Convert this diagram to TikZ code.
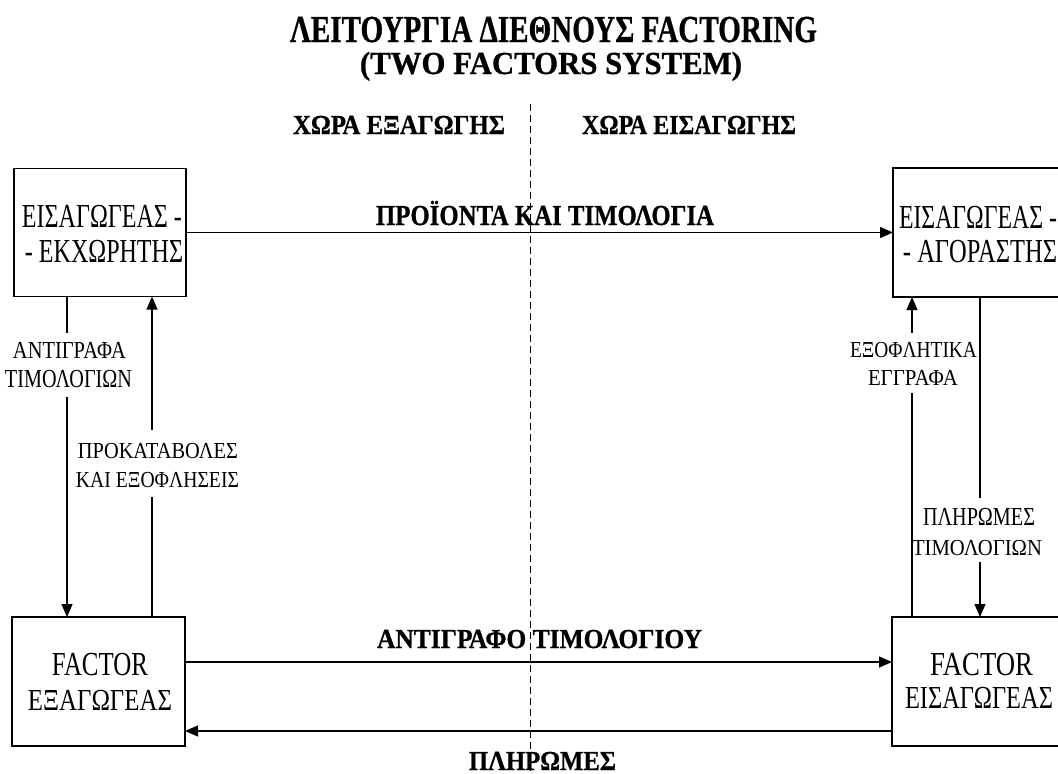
\documentclass[tikz,border=0pt]{standalone}
\usepackage{fontspec}
\setmainfont{Liberation Serif}
\newfontfamily\hvy[UprightFont={* Bold},FakeBold=0.8]{Liberation Serif}
\usepackage{graphicx}
\usetikzlibrary{arrows.meta}
\newcommand{\fitt}[3]{\resizebox{#1pt}{#2pt}{\raisebox{0pt}[\fontcharht\font`\A][0pt]{#3}}}
\begin{document}
\begin{tikzpicture}[x=1pt,y=-1pt,
  ln/.style={line width=1.2pt},
  arr/.style={ln,-{Triangle[length=13pt,width=11pt]}},
  box/.style={draw,line width=1.5pt,inner sep=0pt,outer sep=0pt},
  txt/.style={inner sep=0pt,anchor=base},
  lbl/.style={inner xsep=0pt,anchor=base},
  sep/.style={line width=1pt,dash pattern=on 7pt off 4pt}]
\useasboundingbox[fill=white] (0,0) rectangle (1058,774);

% title
\node[txt,font=\hvy] (t1) at (553.5,42) {\fitt{527}{25}{ΛΕΙΤΟΥΡΓΙΑ ΔΙΕΘΝΟΥΣ FACTORING}};
\node[txt,font=\hvy] (t2) at (551,74) {\fitt{382}{21}{(TWO FACTORS SYSTEM)}};

% countries
\node[txt,font=\hvy] (cex) at (399,134) {\fitt{212}{18}{ΧΩΡΑ ΕΞΑΓΩΓΗΣ}};
\node[txt,font=\hvy] (cim) at (689,134) {\fitt{214}{18}{ΧΩΡΑ ΕΙΣΑΓΩΓΗΣ}};

% separator
\coordinate (dtop) at (530.5,104);
\coordinate (dbot) at (530.5,776);
\draw[sep] (dtop) -- (dbot);

% boxes
\node[box,minimum width=172pt,minimum height=128pt] (exl) at (100,232.5) {};
\node[box,minimum width=172pt,minimum height=129pt] (imr) at (979,232.5) {};
\node[box,minimum width=173pt,minimum height=129pt] (fxl) at (98.5,681.5) {};
\node[box,minimum width=173pt,minimum height=129pt] (fxr) at (978.5,681.5) {};

% box texts
\node[txt] (exl1) at (102,227) {\fitt{160}{22}{ΕΙΣΑΓΩΓΕΑΣ -}};
\node[txt] (exl2) at (104,262) {\fitt{158}{22}{- ΕΚΧΩΡΗΤΗΣ}};
\node[txt] (imr1) at (978,228) {\fitt{158}{22}{ΕΙΣΑΓΩΓΕΑΣ -}};
\node[txt] (imr2) at (980,262) {\fitt{154}{22}{- ΑΓΟΡΑΣΤΗΣ}};
\node[txt] (fxl1) at (100,675) {\fitt{96}{22}{FACTOR}};
\node[txt] (fxl2) at (100,710) {\fitt{144}{20}{ΕΞΑΓΩΓΕΑΣ}};
\node[txt] (fxr1) at (981.5,675) {\fitt{103}{22}{FACTOR}};
\node[txt] (fxr2) at (979,708) {\fitt{148}{21}{ΕΙΣΑΓΩΓΕΑΣ}};

% horizontal flows
\node[txt,font=\hvy] (hp) at (545,225) {\fitt{338}{19}{ΠΡΟΪΟΝΤΑ ΚΑΙ ΤΙΜΟΛΟΓΙΑ}};
\draw[arr] (exl.east) -- (imr.west);
\node[txt,font=\hvy] (ha) at (539.5,648) {\fitt{325}{18}{ΑΝΤΙΓΡΑΦΟ ΤΙΜΟΛΟΓΙΟΥ}};
\draw[arr] ([yshift=19.5pt]fxl.east) -- ([yshift=19.5pt]fxr.west);
\node[txt,font=\hvy] (hpl) at (542.5,770) {\fitt{147}{18}{ΠΛΗΡΩΜΕΣ}};
\draw[arr] ([yshift=-49.5pt]fxr.west) -- ([yshift=-49.5pt]fxl.east);

% vertical flow labels
\node[lbl,inner ysep=9pt] (l1a) at (69.5,358) {\fitt{113}{16}{ΑΝΤΙΓΡΑΦΑ}};
\node[lbl,inner ysep=10pt] (l1b) at (68.5,387) {\fitt{127}{17}{ΤΙΜΟΛΟΓΙΩΝ}};
\node[lbl,inner ysep=13pt] (l2a) at (158,458) {\fitt{160}{15}{ΠΡΟΚΑΤΑΒΟΛΕΣ}};
\node[lbl,inner ysep=10pt] (l2b) at (157.5,487) {\fitt{163}{15}{ΚΑΙ ΕΞΟΦΛΗΣΕΙΣ}};
\node[lbl,inner ysep=9pt] (l3a) at (913.5,357) {\fitt{127}{15}{ΕΞΟΦΛΗΤΙΚΑ}};
\node[lbl,inner ysep=8pt] (l3b) at (913,385) {\fitt{90}{15}{ΕΓΓΡΑΦΑ}};
\node[lbl,inner ysep=10pt] (l4a) at (979,525) {\fitt{112}{17}{ΠΛΗΡΩΜΕΣ}};
\node[lbl,inner ysep=7pt] (l4b) at (977,555) {\fitt{130}{15}{ΤΙΜΟΛΟΓΙΩΝ}};

% vertical flows
\coordinate (xa) at (67,0);
\coordinate (xb) at (152,0);
\coordinate (xc) at (912,0);
\coordinate (xd) at (980,0);
\draw[ln] (exl.south -| xa) -- (l1a.north -| xa);
\draw[arr] (l1b.south -| xa) -- (fxl.north -| xa);
\draw[ln] (fxl.north -| xb) -- (l2b.south -| xb);
\draw[arr] (l2a.north -| xb) -- (exl.south -| xb);
\draw[ln] (fxr.north -| xc) -- (l3b.south -| xc);
\draw[arr] (l3a.north -| xc) -- (imr.south -| xc);
\draw[ln] (imr.south -| xd) -- (l4a.north -| xd);
\draw[arr] (l4b.south -| xd) -- (fxr.north -| xd);
\end{tikzpicture}
\end{document}
